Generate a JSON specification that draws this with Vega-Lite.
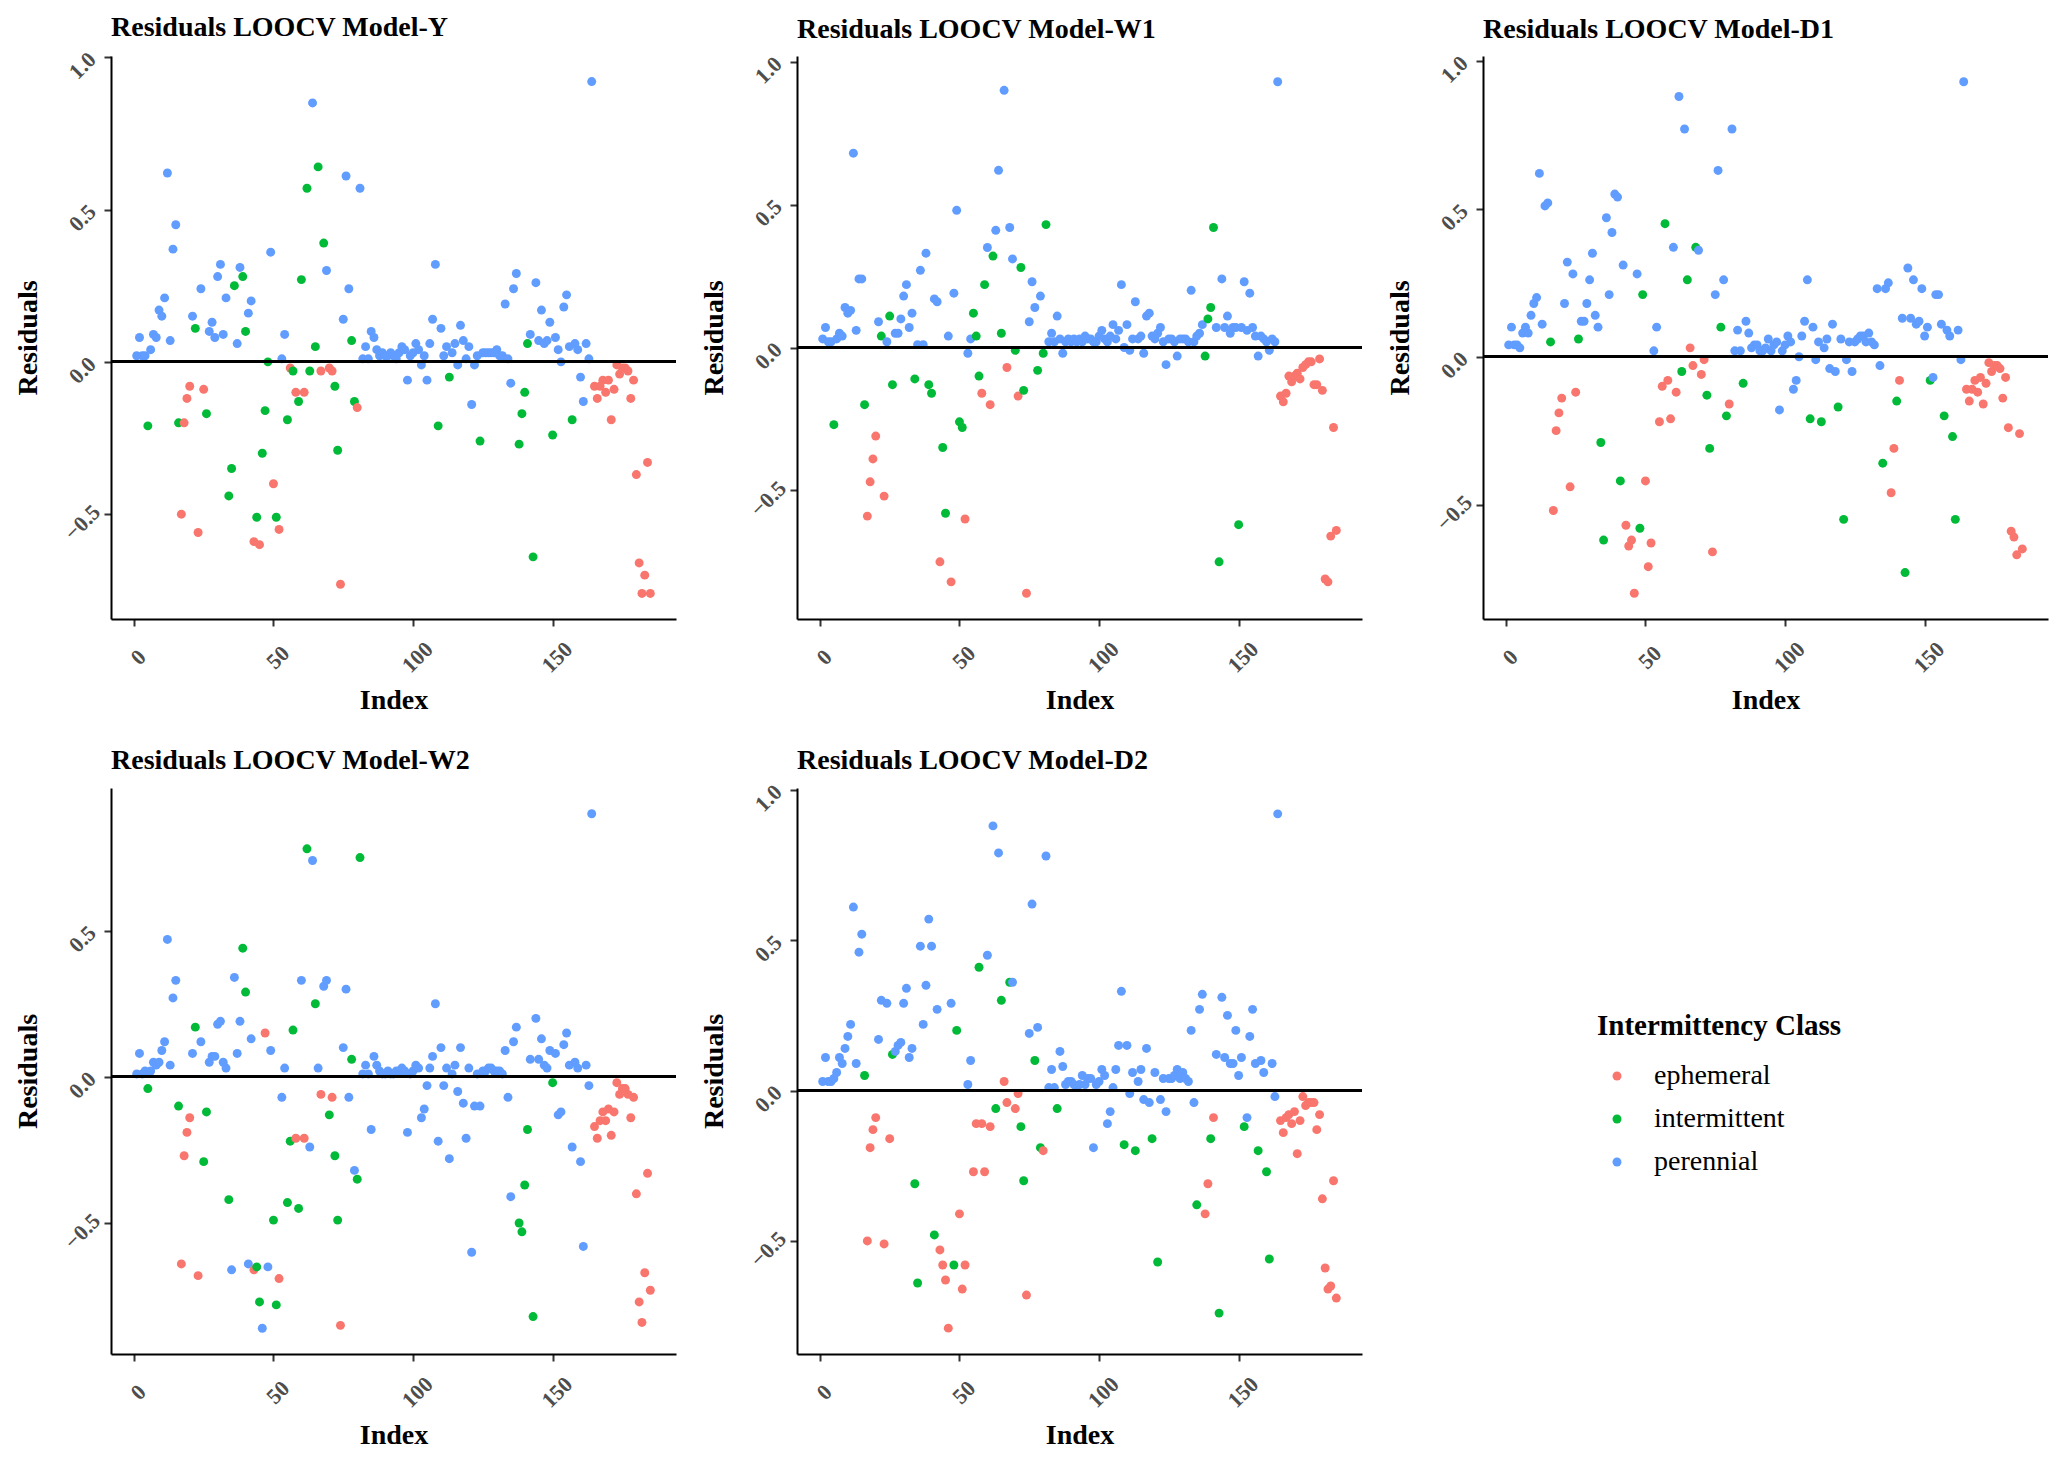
{
  "$schema": "https://vega.github.io/schema/vega-lite/v6.json",
  "background": "white",
  "padding": {"left": 14, "top": 13, "right": 0, "bottom": 0},
  "columns": 3,
  "bounds": "flush",
  "spacing": {"row": 169, "column": 121},
  "datasets": {
    "Y": [
      {"i":1,"r":0.02,"c":"p"},{"i":2,"r":0.08,"c":"p"},{"i":3,"r":0.02,"c":"p"},{"i":4,"r":0.02,"c":"p"},{"i":5,"r":-0.21,"c":"i"},
      {"i":6,"r":0.04,"c":"p"},{"i":7,"r":0.09,"c":"p"},{"i":8,"r":0.08,"c":"p"},{"i":9,"r":0.17,"c":"p"},{"i":10,"r":0.15,"c":"p"},
      {"i":11,"r":0.21,"c":"p"},{"i":12,"r":0.62,"c":"p"},{"i":13,"r":0.07,"c":"p"},{"i":14,"r":0.37,"c":"p"},{"i":15,"r":0.45,"c":"p"},
      {"i":16,"r":-0.20,"c":"i"},{"i":17,"r":-0.50,"c":"e"},{"i":18,"r":-0.20,"c":"e"},{"i":19,"r":-0.12,"c":"e"},{"i":20,"r":-0.08,"c":"e"},
      {"i":21,"r":0.15,"c":"p"},{"i":22,"r":0.11,"c":"i"},{"i":23,"r":-0.56,"c":"e"},{"i":24,"r":0.24,"c":"p"},{"i":25,"r":-0.09,"c":"e"},
      {"i":26,"r":-0.17,"c":"i"},{"i":27,"r":0.10,"c":"p"},{"i":28,"r":0.13,"c":"p"},{"i":29,"r":0.08,"c":"p"},{"i":30,"r":0.28,"c":"p"},
      {"i":31,"r":0.32,"c":"p"},{"i":32,"r":0.09,"c":"p"},{"i":33,"r":0.21,"c":"p"},{"i":34,"r":-0.44,"c":"i"},{"i":35,"r":-0.35,"c":"i"},
      {"i":36,"r":0.25,"c":"i"},{"i":37,"r":0.06,"c":"p"},{"i":38,"r":0.31,"c":"p"},{"i":39,"r":0.28,"c":"i"},{"i":40,"r":0.10,"c":"i"},
      {"i":41,"r":0.16,"c":"p"},{"i":42,"r":0.20,"c":"p"},{"i":43,"r":-0.59,"c":"e"},{"i":44,"r":-0.51,"c":"i"},{"i":45,"r":-0.60,"c":"e"},
      {"i":46,"r":-0.30,"c":"i"},{"i":47,"r":-0.16,"c":"i"},{"i":48,"r":0.00,"c":"i"},{"i":49,"r":0.36,"c":"p"},{"i":50,"r":-0.40,"c":"e"},
      {"i":51,"r":-0.51,"c":"i"},{"i":52,"r":-0.55,"c":"e"},{"i":53,"r":0.01,"c":"p"},{"i":54,"r":0.09,"c":"p"},{"i":55,"r":-0.19,"c":"i"},
      {"i":56,"r":-0.02,"c":"e"},{"i":57,"r":-0.03,"c":"i"},{"i":58,"r":-0.10,"c":"e"},{"i":59,"r":-0.13,"c":"i"},{"i":60,"r":0.27,"c":"i"},
      {"i":61,"r":-0.10,"c":"e"},{"i":62,"r":0.57,"c":"i"},{"i":63,"r":-0.03,"c":"i"},{"i":64,"r":0.85,"c":"p"},{"i":65,"r":0.05,"c":"i"},
      {"i":66,"r":0.64,"c":"i"},{"i":67,"r":-0.03,"c":"e"},{"i":68,"r":0.39,"c":"i"},{"i":69,"r":0.30,"c":"p"},{"i":70,"r":-0.02,"c":"e"},
      {"i":71,"r":-0.03,"c":"e"},{"i":72,"r":-0.08,"c":"i"},{"i":73,"r":-0.29,"c":"i"},{"i":74,"r":-0.73,"c":"e"},{"i":75,"r":0.14,"c":"p"},
      {"i":76,"r":0.61,"c":"p"},{"i":77,"r":0.24,"c":"p"},{"i":78,"r":0.07,"c":"i"},{"i":79,"r":-0.13,"c":"i"},{"i":80,"r":-0.15,"c":"e"},
      {"i":81,"r":0.57,"c":"p"},{"i":82,"r":0.01,"c":"p"},{"i":83,"r":0.05,"c":"p"},{"i":84,"r":0.01,"c":"p"},{"i":85,"r":0.10,"c":"p"},
      {"i":86,"r":0.08,"c":"p"},{"i":87,"r":0.04,"c":"p"},{"i":88,"r":0.02,"c":"p"},{"i":89,"r":0.03,"c":"p"},{"i":90,"r":0.02,"c":"p"},
      {"i":91,"r":0.02,"c":"p"},{"i":92,"r":0.03,"c":"p"},{"i":93,"r":0.02,"c":"p"},{"i":94,"r":0.01,"c":"p"},{"i":95,"r":0.03,"c":"p"},
      {"i":96,"r":0.05,"c":"p"},{"i":97,"r":0.04,"c":"p"},{"i":98,"r":-0.06,"c":"p"},{"i":99,"r":0.02,"c":"p"},{"i":100,"r":0.03,"c":"p"},
      {"i":101,"r":0.06,"c":"p"},{"i":102,"r":0.04,"c":"p"},{"i":103,"r":-0.01,"c":"p"},{"i":104,"r":0.02,"c":"p"},{"i":105,"r":-0.06,"c":"p"},
      {"i":106,"r":0.06,"c":"p"},{"i":107,"r":0.14,"c":"p"},{"i":108,"r":0.32,"c":"p"},{"i":109,"r":-0.21,"c":"i"},{"i":110,"r":0.11,"c":"p"},
      {"i":111,"r":0.02,"c":"p"},{"i":112,"r":0.05,"c":"p"},{"i":113,"r":-0.05,"c":"i"},{"i":114,"r":0.03,"c":"p"},{"i":115,"r":0.06,"c":"p"},
      {"i":116,"r":-0.01,"c":"p"},{"i":117,"r":0.12,"c":"p"},{"i":118,"r":0.07,"c":"p"},{"i":119,"r":0.01,"c":"p"},{"i":120,"r":0.05,"c":"p"},
      {"i":121,"r":-0.14,"c":"p"},{"i":122,"r":-0.01,"c":"p"},{"i":123,"r":0.02,"c":"p"},{"i":124,"r":-0.26,"c":"i"},{"i":125,"r":0.03,"c":"p"},
      {"i":126,"r":0.03,"c":"p"},{"i":127,"r":0.03,"c":"p"},{"i":128,"r":0.03,"c":"p"},{"i":129,"r":0.03,"c":"p"},{"i":130,"r":0.04,"c":"p"},
      {"i":131,"r":0.02,"c":"p"},{"i":132,"r":0.02,"c":"p"},{"i":133,"r":0.19,"c":"p"},{"i":134,"r":0.01,"c":"p"},{"i":135,"r":-0.07,"c":"p"},
      {"i":136,"r":0.24,"c":"p"},{"i":137,"r":0.29,"c":"p"},{"i":138,"r":-0.27,"c":"i"},{"i":139,"r":-0.17,"c":"i"},{"i":140,"r":-0.10,"c":"i"},
      {"i":141,"r":0.06,"c":"i"},{"i":142,"r":0.09,"c":"p"},{"i":143,"r":-0.64,"c":"i"},{"i":144,"r":0.26,"c":"p"},{"i":145,"r":0.07,"c":"p"},
      {"i":146,"r":0.17,"c":"p"},{"i":147,"r":0.06,"c":"p"},{"i":148,"r":0.07,"c":"p"},{"i":149,"r":0.13,"c":"p"},{"i":150,"r":-0.24,"c":"i"},
      {"i":151,"r":0.08,"c":"p"},{"i":152,"r":0.04,"c":"p"},{"i":153,"r":0.00,"c":"p"},{"i":154,"r":0.18,"c":"p"},{"i":155,"r":0.22,"c":"p"},
      {"i":156,"r":0.05,"c":"p"},{"i":157,"r":-0.19,"c":"i"},{"i":158,"r":0.06,"c":"p"},{"i":159,"r":0.04,"c":"p"},{"i":160,"r":-0.05,"c":"p"},
      {"i":161,"r":-0.13,"c":"p"},{"i":162,"r":0.06,"c":"p"},{"i":163,"r":0.01,"c":"p"},{"i":164,"r":0.92,"c":"p"},{"i":165,"r":-0.08,"c":"e"},
      {"i":166,"r":-0.12,"c":"e"},{"i":167,"r":-0.08,"c":"e"},{"i":168,"r":-0.06,"c":"e"},{"i":169,"r":-0.10,"c":"e"},{"i":170,"r":-0.06,"c":"e"},
      {"i":171,"r":-0.19,"c":"e"},{"i":172,"r":-0.09,"c":"e"},{"i":173,"r":-0.01,"c":"e"},{"i":174,"r":-0.04,"c":"e"},{"i":175,"r":-0.02,"c":"e"},
      {"i":176,"r":-0.02,"c":"e"},{"i":177,"r":-0.03,"c":"e"},{"i":178,"r":-0.12,"c":"e"},{"i":179,"r":-0.06,"c":"e"},{"i":180,"r":-0.37,"c":"e"},
      {"i":181,"r":-0.66,"c":"e"},{"i":182,"r":-0.76,"c":"e"},{"i":183,"r":-0.70,"c":"e"},{"i":184,"r":-0.33,"c":"e"},{"i":185,"r":-0.76,"c":"e"}
    ],
    "W1": [
      {"i":1,"r":0.03,"c":"p"},{"i":2,"r":0.07,"c":"p"},{"i":3,"r":0.02,"c":"p"},{"i":4,"r":0.02,"c":"p"},{"i":5,"r":-0.27,"c":"i"},
      {"i":6,"r":0.03,"c":"p"},{"i":7,"r":0.05,"c":"p"},{"i":8,"r":0.04,"c":"p"},{"i":9,"r":0.14,"c":"p"},{"i":10,"r":0.12,"c":"p"},
      {"i":11,"r":0.13,"c":"p"},{"i":12,"r":0.68,"c":"p"},{"i":13,"r":0.06,"c":"p"},{"i":14,"r":0.24,"c":"p"},{"i":15,"r":0.24,"c":"p"},
      {"i":16,"r":-0.20,"c":"i"},{"i":17,"r":-0.59,"c":"e"},{"i":18,"r":-0.47,"c":"e"},{"i":19,"r":-0.39,"c":"e"},{"i":20,"r":-0.31,"c":"e"},
      {"i":21,"r":0.09,"c":"p"},{"i":22,"r":0.04,"c":"i"},{"i":23,"r":-0.52,"c":"e"},{"i":24,"r":0.02,"c":"p"},{"i":25,"r":0.11,"c":"i"},
      {"i":26,"r":-0.13,"c":"i"},{"i":27,"r":0.05,"c":"p"},{"i":28,"r":0.05,"c":"p"},{"i":29,"r":0.10,"c":"p"},{"i":30,"r":0.18,"c":"p"},
      {"i":31,"r":0.22,"c":"p"},{"i":32,"r":0.07,"c":"p"},{"i":33,"r":0.12,"c":"p"},{"i":34,"r":-0.11,"c":"i"},{"i":35,"r":0.01,"c":"p"},
      {"i":36,"r":0.27,"c":"p"},{"i":37,"r":0.01,"c":"p"},{"i":38,"r":0.33,"c":"p"},{"i":39,"r":-0.13,"c":"i"},{"i":40,"r":-0.16,"c":"i"},
      {"i":41,"r":0.17,"c":"p"},{"i":42,"r":0.16,"c":"p"},{"i":43,"r":-0.75,"c":"e"},{"i":44,"r":-0.35,"c":"i"},{"i":45,"r":-0.58,"c":"i"},
      {"i":46,"r":0.04,"c":"p"},{"i":47,"r":-0.82,"c":"e"},{"i":48,"r":0.19,"c":"p"},{"i":49,"r":0.48,"c":"p"},{"i":50,"r":-0.26,"c":"i"},
      {"i":51,"r":-0.28,"c":"i"},{"i":52,"r":-0.60,"c":"e"},{"i":53,"r":-0.02,"c":"p"},{"i":54,"r":0.03,"c":"p"},{"i":55,"r":0.12,"c":"i"},
      {"i":56,"r":0.04,"c":"i"},{"i":57,"r":-0.10,"c":"i"},{"i":58,"r":-0.16,"c":"e"},{"i":59,"r":0.22,"c":"i"},{"i":60,"r":0.35,"c":"p"},
      {"i":61,"r":-0.20,"c":"e"},{"i":62,"r":0.32,"c":"i"},{"i":63,"r":0.41,"c":"p"},{"i":64,"r":0.62,"c":"p"},{"i":65,"r":0.05,"c":"i"},
      {"i":66,"r":0.90,"c":"p"},{"i":67,"r":-0.07,"c":"e"},{"i":68,"r":0.42,"c":"p"},{"i":69,"r":0.31,"c":"p"},{"i":70,"r":-0.01,"c":"i"},
      {"i":71,"r":-0.17,"c":"e"},{"i":72,"r":0.28,"c":"i"},{"i":73,"r":-0.15,"c":"i"},{"i":74,"r":-0.86,"c":"e"},{"i":75,"r":0.09,"c":"p"},
      {"i":76,"r":0.23,"c":"p"},{"i":77,"r":0.14,"c":"p"},{"i":78,"r":-0.08,"c":"i"},{"i":79,"r":0.18,"c":"p"},{"i":80,"r":-0.02,"c":"i"},
      {"i":81,"r":0.43,"c":"i"},{"i":82,"r":0.02,"c":"p"},{"i":83,"r":0.05,"c":"p"},{"i":84,"r":0.02,"c":"p"},{"i":85,"r":0.11,"c":"p"},
      {"i":86,"r":0.03,"c":"p"},{"i":87,"r":-0.02,"c":"p"},{"i":88,"r":0.02,"c":"p"},{"i":89,"r":0.03,"c":"p"},{"i":90,"r":0.02,"c":"p"},
      {"i":91,"r":0.03,"c":"p"},{"i":92,"r":0.02,"c":"p"},{"i":93,"r":0.03,"c":"p"},{"i":94,"r":0.02,"c":"p"},{"i":95,"r":0.04,"c":"p"},
      {"i":96,"r":0.03,"c":"p"},{"i":97,"r":0.03,"c":"p"},{"i":98,"r":0.02,"c":"p"},{"i":99,"r":0.02,"c":"p"},{"i":100,"r":0.04,"c":"p"},
      {"i":101,"r":0.06,"c":"p"},{"i":102,"r":0.03,"c":"p"},{"i":103,"r":0.02,"c":"p"},{"i":104,"r":0.04,"c":"p"},{"i":105,"r":0.08,"c":"p"},
      {"i":106,"r":0.03,"c":"p"},{"i":107,"r":0.06,"c":"p"},{"i":108,"r":0.22,"c":"p"},{"i":109,"r":0.00,"c":"p"},{"i":110,"r":0.08,"c":"p"},
      {"i":111,"r":-0.01,"c":"p"},{"i":112,"r":0.03,"c":"p"},{"i":113,"r":0.16,"c":"p"},{"i":114,"r":0.03,"c":"p"},{"i":115,"r":0.04,"c":"p"},
      {"i":116,"r":-0.02,"c":"p"},{"i":117,"r":0.11,"c":"p"},{"i":118,"r":0.12,"c":"p"},{"i":119,"r":0.04,"c":"p"},{"i":120,"r":0.03,"c":"p"},
      {"i":121,"r":0.05,"c":"p"},{"i":122,"r":0.07,"c":"p"},{"i":123,"r":0.02,"c":"p"},{"i":124,"r":-0.06,"c":"p"},{"i":125,"r":0.03,"c":"p"},
      {"i":126,"r":0.03,"c":"p"},{"i":127,"r":0.02,"c":"p"},{"i":128,"r":-0.03,"c":"p"},{"i":129,"r":0.03,"c":"p"},{"i":130,"r":0.03,"c":"p"},
      {"i":131,"r":0.03,"c":"p"},{"i":132,"r":0.02,"c":"p"},{"i":133,"r":0.20,"c":"p"},{"i":134,"r":0.02,"c":"p"},{"i":135,"r":0.04,"c":"p"},
      {"i":136,"r":0.05,"c":"p"},{"i":137,"r":0.08,"c":"p"},{"i":138,"r":-0.03,"c":"i"},{"i":139,"r":0.10,"c":"i"},{"i":140,"r":0.14,"c":"i"},
      {"i":141,"r":0.42,"c":"i"},{"i":142,"r":0.07,"c":"p"},{"i":143,"r":-0.75,"c":"i"},{"i":144,"r":0.24,"c":"p"},{"i":145,"r":0.07,"c":"p"},
      {"i":146,"r":0.11,"c":"p"},{"i":147,"r":0.05,"c":"p"},{"i":148,"r":0.07,"c":"p"},{"i":149,"r":0.07,"c":"p"},{"i":150,"r":-0.62,"c":"i"},
      {"i":151,"r":0.07,"c":"p"},{"i":152,"r":0.23,"c":"p"},{"i":153,"r":0.06,"c":"p"},{"i":154,"r":0.19,"c":"p"},{"i":155,"r":0.07,"c":"p"},
      {"i":156,"r":0.04,"c":"p"},{"i":157,"r":-0.03,"c":"p"},{"i":158,"r":0.04,"c":"p"},{"i":159,"r":0.03,"c":"p"},{"i":160,"r":0.02,"c":"p"},
      {"i":161,"r":-0.01,"c":"p"},{"i":162,"r":0.03,"c":"p"},{"i":163,"r":0.02,"c":"p"},{"i":164,"r":0.93,"c":"p"},{"i":165,"r":-0.17,"c":"e"},
      {"i":166,"r":-0.19,"c":"e"},{"i":167,"r":-0.16,"c":"e"},{"i":168,"r":-0.10,"c":"e"},{"i":169,"r":-0.12,"c":"e"},{"i":170,"r":-0.10,"c":"e"},
      {"i":171,"r":-0.09,"c":"e"},{"i":172,"r":-0.11,"c":"e"},{"i":173,"r":-0.07,"c":"e"},{"i":174,"r":-0.06,"c":"e"},{"i":175,"r":-0.05,"c":"e"},
      {"i":176,"r":-0.05,"c":"e"},{"i":177,"r":-0.13,"c":"e"},{"i":178,"r":-0.13,"c":"e"},{"i":179,"r":-0.04,"c":"e"},{"i":180,"r":-0.15,"c":"e"},
      {"i":181,"r":-0.81,"c":"e"},{"i":182,"r":-0.82,"c":"e"},{"i":183,"r":-0.66,"c":"e"},{"i":184,"r":-0.28,"c":"e"},{"i":185,"r":-0.64,"c":"e"}
    ],
    "D1": [
      {"i":1,"r":0.04,"c":"p"},{"i":2,"r":0.10,"c":"p"},{"i":3,"r":0.04,"c":"p"},{"i":4,"r":0.04,"c":"p"},{"i":5,"r":0.03,"c":"p"},
      {"i":6,"r":0.08,"c":"p"},{"i":7,"r":0.10,"c":"p"},{"i":8,"r":0.08,"c":"p"},{"i":9,"r":0.14,"c":"p"},{"i":10,"r":0.18,"c":"p"},
      {"i":11,"r":0.20,"c":"p"},{"i":12,"r":0.62,"c":"p"},{"i":13,"r":0.11,"c":"p"},{"i":14,"r":0.51,"c":"p"},{"i":15,"r":0.52,"c":"p"},
      {"i":16,"r":0.05,"c":"i"},{"i":17,"r":-0.52,"c":"e"},{"i":18,"r":-0.25,"c":"e"},{"i":19,"r":-0.19,"c":"e"},{"i":20,"r":-0.14,"c":"e"},
      {"i":21,"r":0.18,"c":"p"},{"i":22,"r":0.32,"c":"p"},{"i":23,"r":-0.44,"c":"e"},{"i":24,"r":0.28,"c":"p"},{"i":25,"r":-0.12,"c":"e"},
      {"i":26,"r":0.06,"c":"i"},{"i":27,"r":0.12,"c":"p"},{"i":28,"r":0.12,"c":"p"},{"i":29,"r":0.18,"c":"p"},{"i":30,"r":0.26,"c":"p"},
      {"i":31,"r":0.35,"c":"p"},{"i":32,"r":0.14,"c":"p"},{"i":33,"r":0.10,"c":"p"},{"i":34,"r":-0.29,"c":"i"},{"i":35,"r":-0.62,"c":"i"},
      {"i":36,"r":0.47,"c":"p"},{"i":37,"r":0.21,"c":"p"},{"i":38,"r":0.42,"c":"p"},{"i":39,"r":0.55,"c":"p"},{"i":40,"r":0.54,"c":"p"},
      {"i":41,"r":-0.42,"c":"i"},{"i":42,"r":0.31,"c":"p"},{"i":43,"r":-0.57,"c":"e"},{"i":44,"r":-0.64,"c":"e"},{"i":45,"r":-0.62,"c":"e"},
      {"i":46,"r":-0.80,"c":"e"},{"i":47,"r":0.28,"c":"p"},{"i":48,"r":-0.58,"c":"i"},{"i":49,"r":0.21,"c":"i"},{"i":50,"r":-0.42,"c":"e"},
      {"i":51,"r":-0.71,"c":"e"},{"i":52,"r":-0.63,"c":"e"},{"i":53,"r":0.02,"c":"p"},{"i":54,"r":0.10,"c":"p"},{"i":55,"r":-0.22,"c":"e"},
      {"i":56,"r":-0.10,"c":"e"},{"i":57,"r":0.45,"c":"i"},{"i":58,"r":-0.08,"c":"e"},{"i":59,"r":-0.21,"c":"e"},{"i":60,"r":0.37,"c":"p"},
      {"i":61,"r":-0.12,"c":"e"},{"i":62,"r":0.88,"c":"p"},{"i":63,"r":-0.05,"c":"i"},{"i":64,"r":0.77,"c":"p"},{"i":65,"r":0.26,"c":"i"},
      {"i":66,"r":0.03,"c":"e"},{"i":67,"r":-0.03,"c":"e"},{"i":68,"r":0.37,"c":"i"},{"i":69,"r":0.36,"c":"p"},{"i":70,"r":-0.06,"c":"e"},
      {"i":71,"r":-0.01,"c":"e"},{"i":72,"r":-0.13,"c":"i"},{"i":73,"r":-0.31,"c":"i"},{"i":74,"r":-0.66,"c":"e"},{"i":75,"r":0.21,"c":"p"},
      {"i":76,"r":0.63,"c":"p"},{"i":77,"r":0.10,"c":"i"},{"i":78,"r":0.26,"c":"p"},{"i":79,"r":-0.20,"c":"i"},{"i":80,"r":-0.16,"c":"e"},
      {"i":81,"r":0.77,"c":"p"},{"i":82,"r":0.02,"c":"p"},{"i":83,"r":0.09,"c":"p"},{"i":84,"r":0.02,"c":"p"},{"i":85,"r":-0.09,"c":"i"},
      {"i":86,"r":0.12,"c":"p"},{"i":87,"r":0.08,"c":"p"},{"i":88,"r":0.03,"c":"p"},{"i":89,"r":0.04,"c":"p"},{"i":90,"r":0.04,"c":"p"},
      {"i":91,"r":0.02,"c":"p"},{"i":92,"r":0.02,"c":"p"},{"i":93,"r":0.03,"c":"p"},{"i":94,"r":0.06,"c":"p"},{"i":95,"r":0.02,"c":"p"},
      {"i":96,"r":0.04,"c":"p"},{"i":97,"r":0.05,"c":"p"},{"i":98,"r":-0.18,"c":"p"},{"i":99,"r":0.02,"c":"p"},{"i":100,"r":0.04,"c":"p"},
      {"i":101,"r":0.07,"c":"p"},{"i":102,"r":0.05,"c":"p"},{"i":103,"r":-0.11,"c":"p"},{"i":104,"r":-0.08,"c":"p"},{"i":105,"r":0.00,"c":"p"},
      {"i":106,"r":0.07,"c":"p"},{"i":107,"r":0.12,"c":"p"},{"i":108,"r":0.26,"c":"p"},{"i":109,"r":-0.21,"c":"i"},{"i":110,"r":0.10,"c":"p"},
      {"i":111,"r":-0.01,"c":"p"},{"i":112,"r":0.05,"c":"p"},{"i":113,"r":-0.22,"c":"i"},{"i":114,"r":0.03,"c":"p"},{"i":115,"r":0.06,"c":"p"},
      {"i":116,"r":-0.04,"c":"p"},{"i":117,"r":0.11,"c":"p"},{"i":118,"r":-0.05,"c":"p"},{"i":119,"r":-0.17,"c":"i"},{"i":120,"r":0.06,"c":"p"},
      {"i":121,"r":-0.55,"c":"i"},{"i":122,"r":-0.01,"c":"p"},{"i":123,"r":0.05,"c":"p"},{"i":124,"r":-0.05,"c":"p"},{"i":125,"r":0.05,"c":"p"},
      {"i":126,"r":0.06,"c":"p"},{"i":127,"r":0.07,"c":"p"},{"i":128,"r":0.07,"c":"p"},{"i":129,"r":0.05,"c":"p"},{"i":130,"r":0.08,"c":"p"},
      {"i":131,"r":0.05,"c":"p"},{"i":132,"r":0.04,"c":"p"},{"i":133,"r":0.23,"c":"p"},{"i":134,"r":-0.03,"c":"p"},{"i":135,"r":-0.36,"c":"i"},
      {"i":136,"r":0.23,"c":"p"},{"i":137,"r":0.25,"c":"p"},{"i":138,"r":-0.46,"c":"e"},{"i":139,"r":-0.31,"c":"e"},{"i":140,"r":-0.15,"c":"i"},
      {"i":141,"r":-0.08,"c":"e"},{"i":142,"r":0.13,"c":"p"},{"i":143,"r":-0.73,"c":"i"},{"i":144,"r":0.30,"c":"p"},{"i":145,"r":0.13,"c":"p"},
      {"i":146,"r":0.26,"c":"p"},{"i":147,"r":0.11,"c":"p"},{"i":148,"r":0.12,"c":"p"},{"i":149,"r":0.23,"c":"p"},{"i":150,"r":0.07,"c":"p"},
      {"i":151,"r":0.10,"c":"p"},{"i":152,"r":-0.08,"c":"i"},{"i":153,"r":-0.07,"c":"p"},{"i":154,"r":0.21,"c":"p"},{"i":155,"r":0.21,"c":"p"},
      {"i":156,"r":0.11,"c":"p"},{"i":157,"r":-0.20,"c":"i"},{"i":158,"r":0.09,"c":"p"},{"i":159,"r":0.07,"c":"p"},{"i":160,"r":-0.27,"c":"i"},
      {"i":161,"r":-0.55,"c":"i"},{"i":162,"r":0.09,"c":"p"},{"i":163,"r":-0.01,"c":"p"},{"i":164,"r":0.93,"c":"p"},{"i":165,"r":-0.11,"c":"e"},
      {"i":166,"r":-0.15,"c":"e"},{"i":167,"r":-0.11,"c":"e"},{"i":168,"r":-0.08,"c":"e"},{"i":169,"r":-0.12,"c":"e"},{"i":170,"r":-0.07,"c":"e"},
      {"i":171,"r":-0.16,"c":"e"},{"i":172,"r":-0.09,"c":"e"},{"i":173,"r":-0.02,"c":"e"},{"i":174,"r":-0.05,"c":"e"},{"i":175,"r":-0.03,"c":"e"},
      {"i":176,"r":-0.03,"c":"e"},{"i":177,"r":-0.04,"c":"e"},{"i":178,"r":-0.14,"c":"e"},{"i":179,"r":-0.07,"c":"e"},{"i":180,"r":-0.24,"c":"e"},
      {"i":181,"r":-0.59,"c":"e"},{"i":182,"r":-0.61,"c":"e"},{"i":183,"r":-0.67,"c":"e"},{"i":184,"r":-0.26,"c":"e"},{"i":185,"r":-0.65,"c":"e"}
    ],
    "W2": [
      {"i":1,"r":0.01,"c":"p"},{"i":2,"r":0.08,"c":"p"},{"i":3,"r":0.01,"c":"p"},{"i":4,"r":0.02,"c":"p"},{"i":5,"r":-0.04,"c":"i"},
      {"i":6,"r":0.02,"c":"p"},{"i":7,"r":0.05,"c":"p"},{"i":8,"r":0.04,"c":"p"},{"i":9,"r":0.05,"c":"p"},{"i":10,"r":0.09,"c":"p"},
      {"i":11,"r":0.12,"c":"p"},{"i":12,"r":0.47,"c":"p"},{"i":13,"r":0.04,"c":"p"},{"i":14,"r":0.27,"c":"p"},{"i":15,"r":0.33,"c":"p"},
      {"i":16,"r":-0.10,"c":"i"},{"i":17,"r":-0.64,"c":"e"},{"i":18,"r":-0.27,"c":"e"},{"i":19,"r":-0.19,"c":"e"},{"i":20,"r":-0.14,"c":"e"},
      {"i":21,"r":0.08,"c":"p"},{"i":22,"r":0.17,"c":"i"},{"i":23,"r":-0.68,"c":"e"},{"i":24,"r":0.12,"c":"p"},{"i":25,"r":-0.29,"c":"i"},
      {"i":26,"r":-0.12,"c":"i"},{"i":27,"r":0.05,"c":"p"},{"i":28,"r":0.07,"c":"p"},{"i":29,"r":0.07,"c":"p"},{"i":30,"r":0.18,"c":"p"},
      {"i":31,"r":0.19,"c":"p"},{"i":32,"r":0.05,"c":"p"},{"i":33,"r":0.03,"c":"p"},{"i":34,"r":-0.42,"c":"i"},{"i":35,"r":-0.66,"c":"p"},
      {"i":36,"r":0.34,"c":"p"},{"i":37,"r":0.08,"c":"p"},{"i":38,"r":0.19,"c":"p"},{"i":39,"r":0.44,"c":"i"},{"i":40,"r":0.29,"c":"i"},
      {"i":41,"r":-0.64,"c":"p"},{"i":42,"r":0.13,"c":"p"},{"i":43,"r":-0.66,"c":"e"},{"i":44,"r":-0.65,"c":"i"},{"i":45,"r":-0.77,"c":"i"},
      {"i":46,"r":-0.86,"c":"p"},{"i":47,"r":0.15,"c":"e"},{"i":48,"r":-0.65,"c":"p"},{"i":49,"r":0.09,"c":"p"},{"i":50,"r":-0.49,"c":"i"},
      {"i":51,"r":-0.78,"c":"i"},{"i":52,"r":-0.69,"c":"e"},{"i":53,"r":-0.07,"c":"p"},{"i":54,"r":0.03,"c":"p"},{"i":55,"r":-0.43,"c":"i"},
      {"i":56,"r":-0.22,"c":"i"},{"i":57,"r":0.16,"c":"i"},{"i":58,"r":-0.21,"c":"e"},{"i":59,"r":-0.45,"c":"i"},{"i":60,"r":0.33,"c":"p"},
      {"i":61,"r":-0.21,"c":"e"},{"i":62,"r":0.78,"c":"i"},{"i":63,"r":-0.24,"c":"p"},{"i":64,"r":0.74,"c":"p"},{"i":65,"r":0.25,"c":"i"},
      {"i":66,"r":0.03,"c":"p"},{"i":67,"r":-0.06,"c":"e"},{"i":68,"r":0.31,"c":"p"},{"i":69,"r":0.33,"c":"p"},{"i":70,"r":-0.13,"c":"i"},
      {"i":71,"r":-0.07,"c":"e"},{"i":72,"r":-0.27,"c":"i"},{"i":73,"r":-0.49,"c":"i"},{"i":74,"r":-0.85,"c":"e"},{"i":75,"r":0.10,"c":"p"},
      {"i":76,"r":0.30,"c":"p"},{"i":77,"r":-0.07,"c":"p"},{"i":78,"r":0.06,"c":"i"},{"i":79,"r":-0.32,"c":"p"},{"i":80,"r":-0.35,"c":"i"},
      {"i":81,"r":0.75,"c":"i"},{"i":82,"r":0.01,"c":"p"},{"i":83,"r":0.04,"c":"p"},{"i":84,"r":0.01,"c":"p"},{"i":85,"r":-0.18,"c":"p"},
      {"i":86,"r":0.07,"c":"p"},{"i":87,"r":0.04,"c":"p"},{"i":88,"r":0.02,"c":"p"},{"i":89,"r":0.01,"c":"p"},{"i":90,"r":0.01,"c":"p"},
      {"i":91,"r":0.02,"c":"p"},{"i":92,"r":0.01,"c":"p"},{"i":93,"r":0.01,"c":"p"},{"i":94,"r":0.02,"c":"p"},{"i":95,"r":0.02,"c":"p"},
      {"i":96,"r":0.03,"c":"p"},{"i":97,"r":0.02,"c":"p"},{"i":98,"r":-0.19,"c":"p"},{"i":99,"r":0.01,"c":"p"},{"i":100,"r":0.02,"c":"p"},
      {"i":101,"r":0.04,"c":"p"},{"i":102,"r":0.03,"c":"p"},{"i":103,"r":-0.14,"c":"p"},{"i":104,"r":-0.11,"c":"p"},{"i":105,"r":-0.03,"c":"p"},
      {"i":106,"r":0.03,"c":"p"},{"i":107,"r":0.07,"c":"p"},{"i":108,"r":0.25,"c":"p"},{"i":109,"r":-0.22,"c":"p"},{"i":110,"r":0.10,"c":"p"},
      {"i":111,"r":-0.03,"c":"p"},{"i":112,"r":0.03,"c":"p"},{"i":113,"r":-0.28,"c":"p"},{"i":114,"r":0.01,"c":"p"},{"i":115,"r":0.04,"c":"p"},
      {"i":116,"r":-0.05,"c":"p"},{"i":117,"r":0.10,"c":"p"},{"i":118,"r":-0.09,"c":"p"},{"i":119,"r":-0.21,"c":"p"},{"i":120,"r":0.03,"c":"p"},
      {"i":121,"r":-0.60,"c":"p"},{"i":122,"r":-0.10,"c":"p"},{"i":123,"r":0.01,"c":"p"},{"i":124,"r":-0.10,"c":"p"},{"i":125,"r":0.02,"c":"p"},
      {"i":126,"r":0.02,"c":"p"},{"i":127,"r":0.03,"c":"p"},{"i":128,"r":0.03,"c":"p"},{"i":129,"r":0.02,"c":"p"},{"i":130,"r":0.02,"c":"p"},
      {"i":131,"r":0.02,"c":"p"},{"i":132,"r":0.01,"c":"p"},{"i":133,"r":0.09,"c":"p"},{"i":134,"r":-0.07,"c":"p"},{"i":135,"r":-0.41,"c":"p"},
      {"i":136,"r":0.12,"c":"p"},{"i":137,"r":0.17,"c":"p"},{"i":138,"r":-0.50,"c":"i"},{"i":139,"r":-0.53,"c":"i"},{"i":140,"r":-0.37,"c":"i"},
      {"i":141,"r":-0.18,"c":"i"},{"i":142,"r":0.06,"c":"p"},{"i":143,"r":-0.82,"c":"i"},{"i":144,"r":0.20,"c":"p"},{"i":145,"r":0.06,"c":"p"},
      {"i":146,"r":0.13,"c":"p"},{"i":147,"r":0.04,"c":"p"},{"i":148,"r":0.03,"c":"p"},{"i":149,"r":0.09,"c":"p"},{"i":150,"r":-0.02,"c":"i"},
      {"i":151,"r":0.08,"c":"p"},{"i":152,"r":-0.13,"c":"p"},{"i":153,"r":-0.12,"c":"p"},{"i":154,"r":0.11,"c":"p"},{"i":155,"r":0.15,"c":"p"},
      {"i":156,"r":0.04,"c":"p"},{"i":157,"r":-0.24,"c":"p"},{"i":158,"r":0.05,"c":"p"},{"i":159,"r":0.03,"c":"p"},{"i":160,"r":-0.29,"c":"p"},
      {"i":161,"r":-0.58,"c":"p"},{"i":162,"r":0.04,"c":"p"},{"i":163,"r":-0.03,"c":"p"},{"i":164,"r":0.90,"c":"p"},{"i":165,"r":-0.17,"c":"e"},
      {"i":166,"r":-0.21,"c":"e"},{"i":167,"r":-0.15,"c":"e"},{"i":168,"r":-0.12,"c":"e"},{"i":169,"r":-0.15,"c":"e"},{"i":170,"r":-0.11,"c":"e"},
      {"i":171,"r":-0.20,"c":"e"},{"i":172,"r":-0.12,"c":"e"},{"i":173,"r":-0.02,"c":"e"},{"i":174,"r":-0.06,"c":"e"},{"i":175,"r":-0.04,"c":"e"},
      {"i":176,"r":-0.04,"c":"e"},{"i":177,"r":-0.06,"c":"e"},{"i":178,"r":-0.14,"c":"e"},{"i":179,"r":-0.07,"c":"e"},{"i":180,"r":-0.40,"c":"e"},
      {"i":181,"r":-0.77,"c":"e"},{"i":182,"r":-0.84,"c":"e"},{"i":183,"r":-0.67,"c":"e"},{"i":184,"r":-0.33,"c":"e"},{"i":185,"r":-0.73,"c":"e"}
    ],
    "D2": [
      {"i":1,"r":0.03,"c":"p"},{"i":2,"r":0.11,"c":"p"},{"i":3,"r":0.03,"c":"p"},{"i":4,"r":0.03,"c":"p"},{"i":5,"r":0.04,"c":"p"},
      {"i":6,"r":0.06,"c":"p"},{"i":7,"r":0.11,"c":"p"},{"i":8,"r":0.09,"c":"p"},{"i":9,"r":0.14,"c":"p"},{"i":10,"r":0.18,"c":"p"},
      {"i":11,"r":0.22,"c":"p"},{"i":12,"r":0.61,"c":"p"},{"i":13,"r":0.09,"c":"p"},{"i":14,"r":0.46,"c":"p"},{"i":15,"r":0.52,"c":"p"},
      {"i":16,"r":0.05,"c":"i"},{"i":17,"r":-0.50,"c":"e"},{"i":18,"r":-0.19,"c":"e"},{"i":19,"r":-0.13,"c":"e"},{"i":20,"r":-0.09,"c":"e"},
      {"i":21,"r":0.17,"c":"p"},{"i":22,"r":0.30,"c":"p"},{"i":23,"r":-0.51,"c":"e"},{"i":24,"r":0.29,"c":"p"},{"i":25,"r":-0.16,"c":"e"},
      {"i":26,"r":0.12,"c":"i"},{"i":27,"r":0.13,"c":"p"},{"i":28,"r":0.15,"c":"p"},{"i":29,"r":0.16,"c":"p"},{"i":30,"r":0.29,"c":"p"},
      {"i":31,"r":0.34,"c":"p"},{"i":32,"r":0.11,"c":"p"},{"i":33,"r":0.14,"c":"p"},{"i":34,"r":-0.31,"c":"i"},{"i":35,"r":-0.64,"c":"i"},
      {"i":36,"r":0.48,"c":"p"},{"i":37,"r":0.22,"c":"p"},{"i":38,"r":0.35,"c":"p"},{"i":39,"r":0.57,"c":"p"},{"i":40,"r":0.48,"c":"p"},
      {"i":41,"r":-0.48,"c":"i"},{"i":42,"r":0.27,"c":"p"},{"i":43,"r":-0.53,"c":"e"},{"i":44,"r":-0.58,"c":"e"},{"i":45,"r":-0.63,"c":"e"},
      {"i":46,"r":-0.79,"c":"e"},{"i":47,"r":0.29,"c":"p"},{"i":48,"r":-0.58,"c":"i"},{"i":49,"r":0.20,"c":"i"},{"i":50,"r":-0.41,"c":"e"},
      {"i":51,"r":-0.66,"c":"e"},{"i":52,"r":-0.58,"c":"e"},{"i":53,"r":0.02,"c":"p"},{"i":54,"r":0.10,"c":"p"},{"i":55,"r":-0.27,"c":"e"},
      {"i":56,"r":-0.11,"c":"e"},{"i":57,"r":0.41,"c":"i"},{"i":58,"r":-0.11,"c":"e"},{"i":59,"r":-0.27,"c":"e"},{"i":60,"r":0.45,"c":"p"},
      {"i":61,"r":-0.12,"c":"e"},{"i":62,"r":0.88,"c":"p"},{"i":63,"r":-0.06,"c":"i"},{"i":64,"r":0.79,"c":"p"},{"i":65,"r":0.30,"c":"i"},
      {"i":66,"r":0.03,"c":"e"},{"i":67,"r":-0.04,"c":"e"},{"i":68,"r":0.36,"c":"i"},{"i":69,"r":0.36,"c":"p"},{"i":70,"r":-0.06,"c":"e"},
      {"i":71,"r":-0.01,"c":"e"},{"i":72,"r":-0.12,"c":"i"},{"i":73,"r":-0.30,"c":"i"},{"i":74,"r":-0.68,"c":"e"},{"i":75,"r":0.19,"c":"p"},
      {"i":76,"r":0.62,"c":"p"},{"i":77,"r":0.10,"c":"i"},{"i":78,"r":0.21,"c":"p"},{"i":79,"r":-0.19,"c":"i"},{"i":80,"r":-0.20,"c":"e"},
      {"i":81,"r":0.78,"c":"p"},{"i":82,"r":0.01,"c":"p"},{"i":83,"r":0.07,"c":"p"},{"i":84,"r":0.01,"c":"p"},{"i":85,"r":-0.06,"c":"i"},
      {"i":86,"r":0.13,"c":"p"},{"i":87,"r":0.08,"c":"p"},{"i":88,"r":0.02,"c":"p"},{"i":89,"r":0.03,"c":"p"},{"i":90,"r":0.03,"c":"p"},
      {"i":91,"r":0.02,"c":"p"},{"i":92,"r":0.01,"c":"p"},{"i":93,"r":0.02,"c":"p"},{"i":94,"r":0.05,"c":"p"},{"i":95,"r":0.02,"c":"p"},
      {"i":96,"r":0.04,"c":"p"},{"i":97,"r":0.04,"c":"p"},{"i":98,"r":-0.19,"c":"p"},{"i":99,"r":0.02,"c":"p"},{"i":100,"r":0.03,"c":"p"},
      {"i":101,"r":0.07,"c":"p"},{"i":102,"r":0.05,"c":"p"},{"i":103,"r":-0.11,"c":"p"},{"i":104,"r":-0.07,"c":"p"},{"i":105,"r":0.01,"c":"p"},
      {"i":106,"r":0.07,"c":"p"},{"i":107,"r":0.15,"c":"p"},{"i":108,"r":0.33,"c":"p"},{"i":109,"r":-0.18,"c":"i"},{"i":110,"r":0.15,"c":"p"},
      {"i":111,"r":-0.01,"c":"p"},{"i":112,"r":0.06,"c":"p"},{"i":113,"r":-0.20,"c":"i"},{"i":114,"r":0.03,"c":"p"},{"i":115,"r":0.07,"c":"p"},
      {"i":116,"r":-0.03,"c":"p"},{"i":117,"r":0.14,"c":"p"},{"i":118,"r":-0.04,"c":"p"},{"i":119,"r":-0.16,"c":"i"},{"i":120,"r":0.06,"c":"p"},
      {"i":121,"r":-0.57,"c":"i"},{"i":122,"r":-0.03,"c":"p"},{"i":123,"r":0.04,"c":"p"},{"i":124,"r":-0.07,"c":"p"},{"i":125,"r":0.04,"c":"p"},
      {"i":126,"r":0.04,"c":"p"},{"i":127,"r":0.05,"c":"p"},{"i":128,"r":0.07,"c":"p"},{"i":129,"r":0.04,"c":"p"},{"i":130,"r":0.06,"c":"p"},
      {"i":131,"r":0.04,"c":"p"},{"i":132,"r":0.03,"c":"p"},{"i":133,"r":0.20,"c":"p"},{"i":134,"r":-0.04,"c":"p"},{"i":135,"r":-0.38,"c":"i"},
      {"i":136,"r":0.27,"c":"p"},{"i":137,"r":0.32,"c":"p"},{"i":138,"r":-0.41,"c":"e"},{"i":139,"r":-0.31,"c":"e"},{"i":140,"r":-0.16,"c":"i"},
      {"i":141,"r":-0.09,"c":"e"},{"i":142,"r":0.12,"c":"p"},{"i":143,"r":-0.74,"c":"i"},{"i":144,"r":0.31,"c":"p"},{"i":145,"r":0.11,"c":"p"},
      {"i":146,"r":0.25,"c":"p"},{"i":147,"r":0.09,"c":"p"},{"i":148,"r":0.09,"c":"p"},{"i":149,"r":0.20,"c":"p"},{"i":150,"r":0.05,"c":"p"},
      {"i":151,"r":0.11,"c":"p"},{"i":152,"r":-0.12,"c":"i"},{"i":153,"r":-0.09,"c":"p"},{"i":154,"r":0.18,"c":"p"},{"i":155,"r":0.27,"c":"p"},
      {"i":156,"r":0.09,"c":"p"},{"i":157,"r":-0.20,"c":"i"},{"i":158,"r":0.10,"c":"p"},{"i":159,"r":0.06,"c":"p"},{"i":160,"r":-0.27,"c":"i"},
      {"i":161,"r":-0.56,"c":"i"},{"i":162,"r":0.09,"c":"p"},{"i":163,"r":-0.02,"c":"p"},{"i":164,"r":0.92,"c":"p"},{"i":165,"r":-0.10,"c":"e"},
      {"i":166,"r":-0.14,"c":"e"},{"i":167,"r":-0.09,"c":"e"},{"i":168,"r":-0.08,"c":"e"},{"i":169,"r":-0.11,"c":"e"},{"i":170,"r":-0.07,"c":"e"},
      {"i":171,"r":-0.21,"c":"e"},{"i":172,"r":-0.10,"c":"e"},{"i":173,"r":-0.02,"c":"e"},{"i":174,"r":-0.05,"c":"e"},{"i":175,"r":-0.04,"c":"e"},
      {"i":176,"r":-0.04,"c":"e"},{"i":177,"r":-0.04,"c":"e"},{"i":178,"r":-0.13,"c":"e"},{"i":179,"r":-0.08,"c":"e"},{"i":180,"r":-0.36,"c":"e"},
      {"i":181,"r":-0.59,"c":"e"},{"i":182,"r":-0.66,"c":"e"},{"i":183,"r":-0.65,"c":"e"},{"i":184,"r":-0.30,"c":"e"},{"i":185,"r":-0.69,"c":"e"}
    ]
  },
  "concat": [
    {
      "title": {"text": "Residuals LOOCV Model-Y", "offset": 6},
      "width": 565, "height": 563,
      "data": {"name": "Y"},
      "layer": [
        {"mark": {"type": "point", "filled": true, "size": 80, "opacity": 1},
         "encoding": {
           "x": {"field": "i", "type": "quantitative", "title": "Index", "scale": {"domain": [-8.2, 194.2], "nice": false, "zero": false}, "axis": {"values": [0, 50, 100, 150]}},
           "y": {"field": "r", "type": "quantitative", "title": "Residuals", "scale": {"domain": [-0.844, 1.004], "nice": false, "zero": false}, "axis": {"values": [-0.5, 0, 0.5, 1]}},
           "color": {"field": "c", "type": "nominal", "title": "Intermittency Class", "scale": {"domain": ["e", "i", "p"], "range": ["#F8766D", "#00BA38", "#619CFF"]},
             "legend": {"labelExpr": "datum.label == 'e' ? 'ephemeral' : datum.label == 'i' ? 'intermittent' : 'perennial'"}}
         }},
        {"mark": {"type": "rule", "color": "black", "strokeWidth": 2}, "encoding": {"y": {"datum": 0}}}
      ]
    },
    {
      "title": {"text": "Residuals LOOCV Model-W1", "offset": 8},
      "width": 565, "height": 563,
      "data": {"name": "W1"},
      "layer": [
        {"mark": {"type": "point", "filled": true, "size": 80, "opacity": 1},
         "encoding": {
           "x": {"field": "i", "type": "quantitative", "title": "Index", "scale": {"domain": [-8.2, 194.2], "nice": false, "zero": false}, "axis": {"values": [0, 50, 100, 150]}},
           "y": {"field": "r", "type": "quantitative", "title": "Residuals", "scale": {"domain": [-0.95, 1.02], "nice": false, "zero": false}, "axis": {"values": [-0.5, 0, 0.5, 1]}},
           "color": {"field": "c", "type": "nominal", "title": "Intermittency Class", "scale": {"domain": ["e", "i", "p"], "range": ["#F8766D", "#00BA38", "#619CFF"]},
             "legend": {"labelExpr": "datum.label == 'e' ? 'ephemeral' : datum.label == 'i' ? 'intermittent' : 'perennial'"}}
         }},
        {"mark": {"type": "rule", "color": "black", "strokeWidth": 2}, "encoding": {"y": {"datum": 0}}}
      ]
    },
    {
      "title": {"text": "Residuals LOOCV Model-D1", "offset": 8},
      "width": 565, "height": 563,
      "data": {"name": "D1"},
      "layer": [
        {"mark": {"type": "point", "filled": true, "size": 80, "opacity": 1},
         "encoding": {
           "x": {"field": "i", "type": "quantitative", "title": "Index", "scale": {"domain": [-8.2, 194.2], "nice": false, "zero": false}, "axis": {"values": [0, 50, 100, 150]}},
           "y": {"field": "r", "type": "quantitative", "title": "Residuals", "scale": {"domain": [-0.887, 1.017], "nice": false, "zero": false}, "axis": {"values": [-0.5, 0, 0.5, 1]}},
           "color": {"field": "c", "type": "nominal", "title": "Intermittency Class", "scale": {"domain": ["e", "i", "p"], "range": ["#F8766D", "#00BA38", "#619CFF"]},
             "legend": {"labelExpr": "datum.label == 'e' ? 'ephemeral' : datum.label == 'i' ? 'intermittent' : 'perennial'"}}
         }},
        {"mark": {"type": "rule", "color": "black", "strokeWidth": 2}, "encoding": {"y": {"datum": 0}}}
      ]
    },
    {
      "title": {"text": "Residuals LOOCV Model-W2", "offset": 13},
      "width": 565, "height": 566,
      "data": {"name": "W2"},
      "layer": [
        {"mark": {"type": "point", "filled": true, "size": 80, "opacity": 1},
         "encoding": {
           "x": {"field": "i", "type": "quantitative", "title": "Index", "scale": {"domain": [-8.2, 194.2], "nice": false, "zero": false}, "axis": {"values": [0, 50, 100, 150]}},
           "y": {"field": "r", "type": "quantitative", "title": "Residuals", "scale": {"domain": [-0.948, 0.988], "nice": false, "zero": false}, "axis": {"values": [-0.5, 0, 0.5]}},
           "color": {"field": "c", "type": "nominal", "title": "Intermittency Class", "scale": {"domain": ["e", "i", "p"], "range": ["#F8766D", "#00BA38", "#619CFF"]},
             "legend": {"labelExpr": "datum.label == 'e' ? 'ephemeral' : datum.label == 'i' ? 'intermittent' : 'perennial'"}}
         }},
        {"mark": {"type": "rule", "color": "black", "strokeWidth": 2}, "encoding": {"y": {"datum": 0}}}
      ]
    },
    {
      "title": {"text": "Residuals LOOCV Model-D2", "offset": 5},
      "width": 565, "height": 566,
      "data": {"name": "D2"},
      "layer": [
        {"mark": {"type": "point", "filled": true, "size": 80, "opacity": 1},
         "encoding": {
           "x": {"field": "i", "type": "quantitative", "title": "Index", "scale": {"domain": [-8.2, 194.2], "nice": false, "zero": false}, "axis": {"values": [0, 50, 100, 150]}},
           "y": {"field": "r", "type": "quantitative", "title": "Residuals", "scale": {"domain": [-0.876, 1.006], "nice": false, "zero": false}, "axis": {"values": [-0.5, 0, 0.5, 1]}},
           "color": {"field": "c", "type": "nominal", "title": "Intermittency Class", "scale": {"domain": ["e", "i", "p"], "range": ["#F8766D", "#00BA38", "#619CFF"]},
             "legend": {"labelExpr": "datum.label == 'e' ? 'ephemeral' : datum.label == 'i' ? 'intermittent' : 'perennial'"}}
         }},
        {"mark": {"type": "rule", "color": "black", "strokeWidth": 2}, "encoding": {"y": {"datum": 0}}}
      ]
    }
  ],
  "resolve": {"scale": {"x": "independent", "y": "independent"}},
  "config": {
    "view": {"stroke": null},
    "font": "Liberation Serif",
    "title": {"font": "Liberation Serif", "fontSize": 28, "fontWeight": "bold", "color": "black", "anchor": "start", "frame": "group", "baseline": "alphabetic"},
    "axis": {
      "grid": false,
      "domainColor": "black", "domainWidth": 2,
      "tickColor": "#333333", "tickWidth": 2, "tickSize": 7,
      "labelFont": "Liberation Serif", "labelFontSize": 22, "labelFontWeight": "bold", "labelColor": "#4D4D4D",
      "labelAngle": -45, "labelAlign": "center", "labelBaseline": "middle",
      "titleFont": "Liberation Serif", "titleFontSize": 28, "titleFontWeight": "bold", "titleColor": "black"
    },
    "axisX": {"labelPadding": 31, "labelOffset": 4, "titlePadding": 10},
    "axisY": {"labelPadding": 22, "labelOffset": 8, "titlePadding": 18, "format": ".1f"},
    "legend": {
      "orient": "none", "legendX": 1486, "legendY": 956, "padding": 0,
      "titleFont": "Liberation Serif", "titleFontSize": 29, "titleFontWeight": "bold", "titleColor": "black", "titlePadding": 21, "titleLimit": 600,
      "labelFont": "Liberation Serif", "labelFontSize": 28, "labelColor": "black", "labelOffset": 23, "labelLimit": 600,
      "rowPadding": 15, "symbolSize": 80, "symbolType": "circle", "symbolOffset": 6, "symbolStrokeWidth": 0
    }
  }
}
